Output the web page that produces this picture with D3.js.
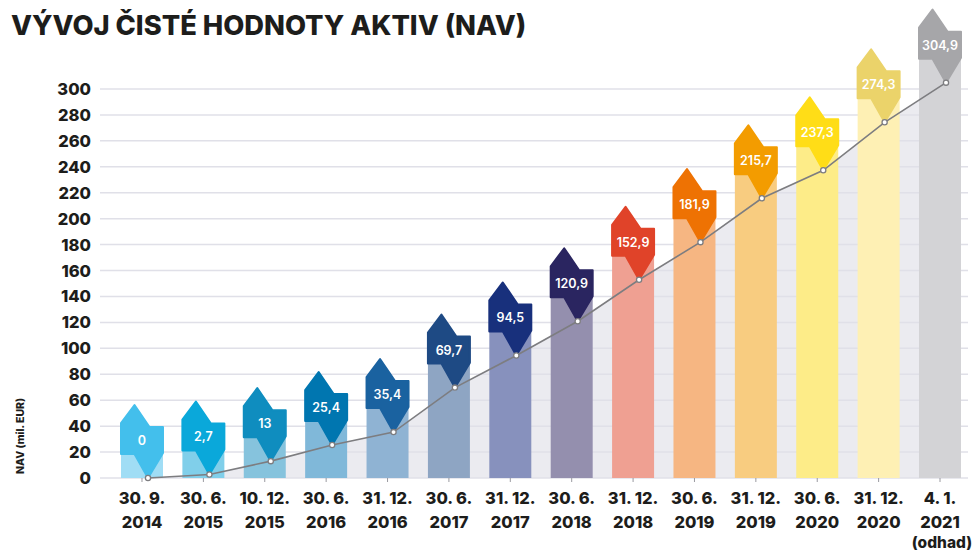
<!DOCTYPE html>
<html>
<head>
<meta charset="utf-8">
<script src="https://cdn.jsdelivr.net/npm/d3@7"></script>
<style>
  body { margin: 0; background: #fff; }
  svg { display: block; font-family: Inter, "Open Sans", sans-serif; }
</style>
</head>
<body>
<div id="chart"></div>
<script>
// Chart values
var dateLines = [
  ["30. 9.", "2014"], ["30. 6.", "2015"], ["10. 12.", "2015"], ["30. 6.", "2016"],
  ["31. 12.", "2016"], ["30. 6.", "2017"], ["31. 12.", "2017"], ["30. 6.", "2018"],
  ["31. 12.", "2018"], ["30. 6.", "2019"], ["31. 12.", "2019"], ["30. 6.", "2020"],
  ["31. 12.", "2020"], ["4. 1.", "2021", "(odhad)"]
];
var navValues = [0, 2.7, 13, 25.4, 35.4, 69.7, 94.5, 120.9, 152.9, 181.9, 215.7, 237.3, 274.3, 304.9];
var navLabels = ["0", "2,7", "13", "25,4", "35,4", "69,7", "94,5", "120,9", "152,9", "181,9", "215,7", "237,3", "274,3", "304,9"];
var tagColors = ["#43bfec", "#0aa8da", "#0f8dbf", "#0076b0", "#1a62a0", "#1e4a84", "#18307c", "#2a2560",
                 "#e04329", "#ee7203", "#f39c00", "#ffdd17", "#ebd36a", "#a6a6a9"];
var barColors = ["#a0ddf5", "#80cfea", "#86c3dd", "#80b8d9", "#8fb3d3", "#8ea5c3", "#8791bd", "#948fae",
                 "#efa092", "#f6b682", "#f8cc80", "#fdec88", "#fef0b4", "#d3d3d6"];
var yTicks = d3.range(0, 301, 20);

var width = 978, height = 553;

var svg = d3.select("#chart")
  .append("svg")
  .attr("width", width)
  .attr("height", height);

// Title
svg.append("text")
  .attr("x", 11)
  .attr("y", 35)
  .style("font-size", "27.3px")
  .style("font-weight", 800)
  .style("fill", "#1d1d1b")
  .text("VÝVOJ ČISTÉ HODNOTY AKTIV (NAV)");

// Scales
var xScale = d3.scaleBand()
  .domain(d3.range(navValues.length))
  .range([111.3, 970.7])
  .paddingInner(0.316)
  .paddingOuter(0.158);

var yScale = d3.scaleLinear()
  .domain([0, 300])
  .range([478, 89]);

var pointX = function(i) { return xScale(i) + xScale.bandwidth() / 2 + 6; };

// Grey area under the line
var area = d3.area()
  .x(function(d, i) { return pointX(i); })
  .y0(yScale(0))
  .y1(function(d) { return yScale(d); });

svg.append("path")
  .datum(navValues)
  .attr("d", area)
  .style("fill", "#ebebf0");

// Grid lines
svg.append("g")
  .selectAll("line")
  .data(yTicks)
  .enter()
  .append("line")
  .attr("x1", 100)
  .attr("x2", 968)
  .attr("y1", function(d) { return yScale(d); })
  .attr("y2", function(d) { return yScale(d); })
  .style("stroke", "#e0e0e8")
  .style("stroke-width", 1.5);

// Y axis labels
svg.append("g")
  .selectAll("text")
  .data(yTicks)
  .enter()
  .append("text")
  .attr("x", 91)
  .attr("y", function(d) { return yScale(d) + 6; })
  .attr("text-anchor", "end")
  .style("font-size", "16.5px")
  .style("font-weight", 800)
  .style("fill", "#1d1d1b")
  .text(function(d) { return d; });

svg.append("text")
  .attr("transform", "translate(24,436) rotate(-90)")
  .attr("text-anchor", "middle")
  .style("font-size", "10.5px")
  .style("font-weight", 800)
  .style("fill", "#1d1d1b")
  .text("NAV (mil. EUR)");

// X tick marks
svg.append("g")
  .selectAll("line")
  .data(navValues)
  .enter()
  .append("line")
  .attr("x1", function(d, i) { return xScale(i) + xScale.bandwidth() / 2; })
  .attr("x2", function(d, i) { return xScale(i) + xScale.bandwidth() / 2; })
  .attr("y1", yScale(0))
  .attr("y2", yScale(0) + 4)
  .style("stroke", "#9a9aa0")
  .style("stroke-width", 1);

// Light bars
svg.append("g")
  .selectAll("rect")
  .data(navValues)
  .enter()
  .append("rect")
  .attr("x", function(d, i) { return xScale(i); })
  .attr("width", xScale.bandwidth())
  .attr("y", function(d) { return yScale(d) - 45; })
  .attr("height", function(d) { return yScale(0) - yScale(d) + 45; })
  .style("fill", function(d, i) { return barColors[i]; });

// Tag shapes pointing at the data point
function tagPath(d, i) {
  var x0 = xScale(i), x1 = x0 + xScale.bandwidth();
  var py = yScale(d), px = pointX(i);
  var rTop = py - 51, rBot = py - 24, spike = py - 73;
  return "M" + x0 + "," + (rTop - 4) +
         "L" + (x0 + 13.5) + "," + spike +
         "L" + (x0 + 28.5) + "," + rTop +
         "L" + x1 + "," + rTop +
         "L" + x1 + "," + (rBot - 1) +
         "L" + px + "," + py +
         "L" + (x0 + 13.5) + "," + rBot +
         "L" + x0 + "," + rBot + "Z";
}

svg.append("g")
  .selectAll("path")
  .data(navValues)
  .enter()
  .append("path")
  .attr("d", tagPath)
  .style("fill", function(d, i) { return tagColors[i]; })
  .style("stroke", function(d, i) { return tagColors[i]; })
  .style("stroke-width", 2)
  .style("stroke-linejoin", "round");

// Tag labels
svg.append("g")
  .selectAll("text")
  .data(navValues)
  .enter()
  .append("text")
  .attr("x", function(d, i) { return xScale(i) + xScale.bandwidth() / 2; })
  .attr("y", function(d) { return yScale(d) - 37.5 + 4.5; })
  .attr("text-anchor", "middle")
  .style("font-size", "12.5px")
  .style("font-weight", 600)
  .style("fill", "#ffffff")
  .text(function(d, i) { return navLabels[i]; });

// NAV line
var line = d3.line()
  .x(function(d, i) { return pointX(i); })
  .y(function(d) { return yScale(d); });

svg.append("path")
  .datum(navValues)
  .attr("d", line)
  .style("fill", "none")
  .style("stroke", "#7d7d80")
  .style("stroke-width", 1.6);

svg.append("g")
  .selectAll("circle")
  .data(navValues)
  .enter()
  .append("circle")
  .attr("cx", function(d, i) { return pointX(i); })
  .attr("cy", function(d) { return yScale(d); })
  .attr("r", 2.6)
  .style("fill", "#ffffff")
  .style("stroke", "#7d7d80")
  .style("stroke-width", 1.3);

// X labels
var xLabels = svg.append("g")
  .selectAll("text")
  .data(dateLines)
  .enter()
  .append("text")
  .attr("text-anchor", "middle")
  .style("font-size", "16.5px")
  .style("font-weight", 800)
  .style("fill", "#1d1d1b");

xLabels.selectAll("tspan")
  .data(function(d, i) { return d.map(function(t) { return {t: t, i: i}; }); })
  .enter()
  .append("tspan")
  .attr("x", function(d) { return xScale(d.i) + xScale.bandwidth() / 2 + (d.t === "(odhad)" ? 2 : 0); })
  .attr("y", function(d, j) { return 504 + j * 24 - (j === 2 ? 4 : 0); })
  .style("font-size", function(d) { return d.t === "(odhad)" ? "15.5px" : null; })
  .text(function(d) { return d.t; });
</script>
</body>
</html>
